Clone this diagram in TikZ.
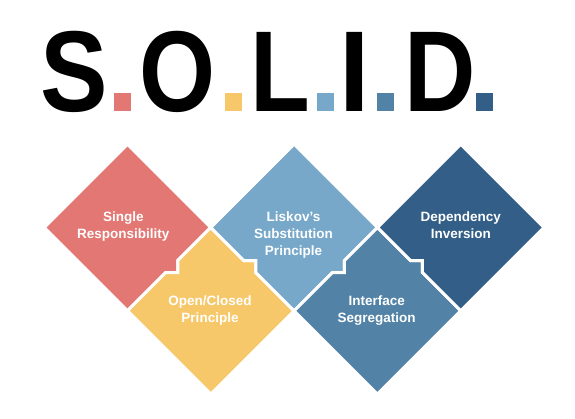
\documentclass[tikz,border=0pt]{standalone}
\usepackage{fontspec}
\setmainfont{Liberation Sans}
\usetikzlibrary{calc}
\definecolor{cred}{HTML}{E27773}
\definecolor{cyel}{HTML}{F6C86A}
\definecolor{clblue}{HTML}{77A8C9}
\definecolor{cmblue}{HTML}{5283A7}
\definecolor{cdblue}{HTML}{335E87}
\begin{document}
\begin{tikzpicture}[x=1pt,y=-1pt,
  piece/.style={draw=white,line width=3pt,line join=miter},
  label/.style={anchor=north,inner sep=0pt,align=center,text=white,
    font=\bfseries\fontsize{13.5}{16.7}\selectfont},
  letter/.style={anchor=base,inner sep=0pt,text=black,
    font=\bfseries\fontsize{115}{115}\selectfont},
  dotsq/.style={inner sep=0pt,minimum width=16.7pt,minimum height=18pt,anchor=south west}]
\useasboundingbox (0,0) rectangle (575,418);
\def\hsz{83.3}
\def\sta{33}
\def\std{12}
% centres
\coordinate (c1) at (127.5,227.5);
\coordinate (c2) at ($(c1)+(\hsz,\hsz)$);
\coordinate (c3) at ($(c1)+(2*\hsz,0)$);
\coordinate (c4) at ($(c1)+(3*\hsz,\hsz)$);
\coordinate (c5) at ($(c1)+(4*\hsz,0)$);
% tops of lower pieces
\coordinate (T1) at ($(c1)+(\hsz,0)$);
\coordinate (T2) at ($(c3)+(\hsz,0)$);
% steps
\coordinate (PL1) at ($(T1)+(-\sta,\sta)$);
\coordinate (PL2) at ($(T1)+(-\sta,\sta+\std)$);
\coordinate (PL3) at ($(T1)+(-\sta-\std,\sta+\std)$);
\coordinate (PR1) at ($(T1)+(\sta,\sta)$);
\coordinate (PR2) at ($(T1)+(\sta+\std,\sta)$);
\coordinate (PR3) at ($(T1)+(\sta+\std,\sta+\std)$);
\coordinate (QL1) at ($(T2)+(-\sta,\sta)$);
\coordinate (QL2) at ($(T2)+(-\sta,\sta+\std)$);
\coordinate (QL3) at ($(T2)+(-\sta-\std,\sta+\std)$);
\coordinate (QR1) at ($(T2)+(\sta,\sta)$);
\coordinate (QR2) at ($(T2)+(\sta+\std,\sta)$);
\coordinate (QR3) at ($(T2)+(\sta+\std,\sta+\std)$);
% pieces
\fill[cred,piece] ($(c1)+(0,-\hsz)$) -- (T1) -- (PL1) -- (PL2) -- (PL3) -- ($(c1)+(0,\hsz)$) -- ($(c1)+(-\hsz,0)$) -- cycle;
\fill[cyel,piece] (T1) -- (PR1) -- (PR2) -- (PR3) -- ($(c2)+(\hsz,0)$) -- ($(c2)+(0,\hsz)$) -- ($(c2)+(-\hsz,0)$) -- (PL3) -- (PL2) -- (PL1) -- cycle;
\fill[clblue,piece] ($(c3)+(0,-\hsz)$) -- (T2) -- (QL1) -- (QL2) -- (QL3) -- ($(c3)+(0,\hsz)$) -- (PR3) -- (PR2) -- (PR1) -- (T1) -- cycle;
\fill[cmblue,piece] (T2) -- (QR1) -- (QR2) -- (QR3) -- ($(c4)+(\hsz,0)$) -- ($(c4)+(0,\hsz)$) -- ($(c4)+(-\hsz,0)$) -- (QL3) -- (QL2) -- (QL1) -- cycle;
\fill[cdblue,piece] ($(c5)+(0,-\hsz)$) -- ($(c5)+(\hsz,0)$) -- ($(c5)+(0,\hsz)$) -- (QR3) -- (QR2) -- (QR1) -- (T2) -- cycle;
% labels
\node[label] (srp) at (123.3,212) {Single\\Responsibility};
\node[label] (ocp) at (210,295.7) {Open/Closed\\Principle};
\node[label] (lsp) at (293.5,212) {Liskov’s\\Substitution\\Principle};
\node[label] (isp) at (376.7,295.7) {Interface\\Segregation};
\node[label] (dip) at (460.8,212) {Dependency\\Inversion};
% title
\node[letter] (tS) at (73.8,111) {\scalebox{0.88}[1]{S}};
\node[letter] (tO) at (177.7,111) {\scalebox{0.85}[1]{O}};
\node[letter] (tL) at (280.5,111) {\scalebox{0.85}[1]{L}};
\node[letter] (tI) at (355,111) {\scalebox{0.95}[1]{I}};
\node[letter] (tD) at (440,111) {\scalebox{0.86}[1]{D}};
\node[dotsq,fill=cred] (d1) at (114,111) {};
\node[dotsq,fill=cyel] (d2) at (225,111) {};
\node[dotsq,fill=clblue] (d3) at (316.7,111) {};
\node[dotsq,fill=cmblue] (d4) at (376.7,111) {};
\node[dotsq,fill=cdblue] (d5) at (476,111) {};
\end{tikzpicture}
\end{document}
